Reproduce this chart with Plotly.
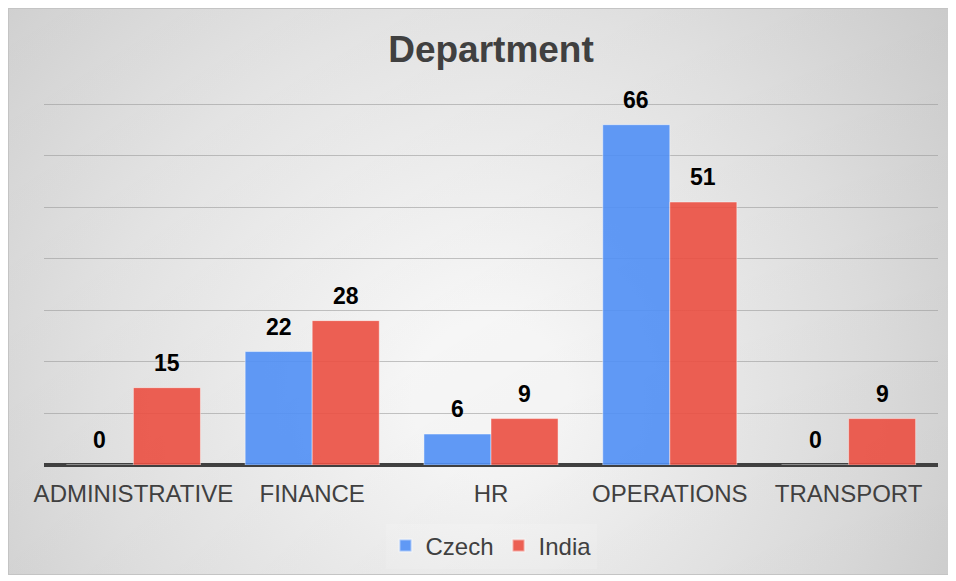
import base64
import plotly.graph_objects as go

categories = ["ADMINISTRATIVE", "FINANCE", "HR", "OPERATIONS", "TRANSPORT"]
czech = [0, 22, 6, 66, 0]
india = [15, 28, 9, 51, 9]
series_names = ["Czech", "India"]

W, H = 948, 573
ML, MR, MT, MB = 36, 18, 94, 116
PW, PH = W - ML - MR, H - MT - MB
YMAX = 70.4

FONT = "Liberation Sans, Arial, sans-serif"
TXT = "#404040"

# background: radial gradient card (chart area) as svg image
cw, ch = 948, 567
svg = f'''<svg xmlns="http://www.w3.org/2000/svg" width="{cw}" height="{ch}" viewBox="0 0 {cw} {ch}" preserveAspectRatio="none">
<defs>
<radialGradient id="g" gradientUnits="userSpaceOnUse" cx="482" cy="390" r="650">
<stop offset="0" stop-color="#ffffff"/>
<stop offset="0.12" stop-color="#ffffff"/>
<stop offset="0.6" stop-color="#e6e6e6"/>
<stop offset="1" stop-color="#cdcdcd"/>
</radialGradient>
<linearGradient id="l" x1="0" y1="0" x2="1" y2="1">
<stop offset="0" stop-color="#000" stop-opacity="0"/>
<stop offset="1" stop-color="#000" stop-opacity="0.07"/>
</linearGradient>
</defs>
<rect x="0" y="0" width="{cw}" height="{ch}" fill="url(#g)"/>
<rect x="0" y="0" width="{cw}" height="{ch}" fill="url(#l)"/>
<rect x="0.5" y="0.5" width="{cw+5}" height="{ch-1}" fill="none" stroke="#c4c4c4" stroke-width="1"/>
</svg>'''
src = "data:image/svg+xml;base64," + base64.b64encode(svg.encode()).decode()

fig = go.Figure()
fig.add_trace(go.Bar(
    name=series_names[0], x=categories, y=czech,
    marker=dict(color="rgba(80,143,245,0.9)", line=dict(color="rgba(255,255,255,0.45)", width=1)),
))
fig.add_trace(go.Bar(
    name=series_names[1], x=categories, y=india,
    marker=dict(color="rgba(235,79,65,0.9)", line=dict(color="rgba(255,255,255,0.45)", width=1)),
))

# data labels
half = PW / len(categories) * 0.75 / 4
annotations = []
for vals, sh in ((czech, -half), (india, half)):
    for c, v in zip(categories, vals):
        annotations.append(dict(
            x=c, y=v, xref="x", yref="y", text=f"<b>{v}</b>", showarrow=False,
            xshift=sh, yshift=25, yanchor="middle",
            font=dict(family=FONT, size=23, color="#000000"),
        ))

fig.update_layout(
    width=W, height=H,
    margin=dict(l=ML, r=MR, t=MT, b=MB, pad=0),
    paper_bgcolor="#ffffff",
    plot_bgcolor="rgba(0,0,0,0)",
    barmode="group", bargap=0.25, bargroupgap=0,
    font=dict(family=FONT, color=TXT),
    title=dict(text="<b>Department</b>", x=0.5, xref="paper", xanchor="center",
               y=(H - 41) / H, yref="container", yanchor="middle",
               font=dict(family=FONT, size=37, color=TXT)),
    showlegend=True,
    legend=dict(orientation="h", x=0.5, xanchor="center", y=-81 / PH, yanchor="middle",
                font=dict(family=FONT, size=24, color=TXT),
                bgcolor="rgba(255,255,255,0.12)", itemsizing="constant"),
    annotations=annotations,
    images=[dict(source=src, xref="paper", yref="paper",
                 x=-ML / PW, y=(MT + PH) / PH,
                 sizex=cw / PW, sizey=ch / PH, sizing="stretch",
                 xanchor="left", yanchor="top", layer="below")],
)
fig.update_xaxes(showgrid=False, showline=False, ticks="",
                 tickfont=dict(family=FONT, size=24, color=TXT), ticklabelstandoff=12)
fig.update_yaxes(range=[0, YMAX], dtick=10, showticklabels=False, showgrid=True,
                 gridcolor="rgba(150,150,150,0.55)", gridwidth=1.3,
                 zeroline=True, zerolinecolor="#404040", zerolinewidth=3.5, showline=False)

fig.write_html("out.html")
